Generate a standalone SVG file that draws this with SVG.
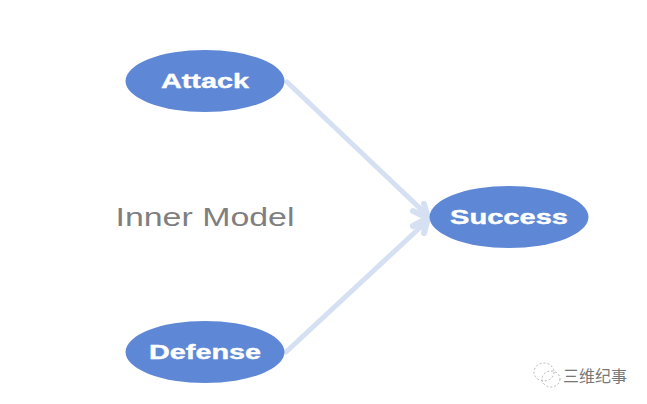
<svg xmlns="http://www.w3.org/2000/svg" width="647" height="404" viewBox="0 0 647 404">
<style>
.n{fill:#5e88d6}
.l{font-family:"Liberation Sans",Arial,sans-serif;font-weight:700;font-size:21px;fill:#fff;stroke:#fff;stroke-width:.4;text-anchor:middle}
.c{fill:none;stroke:#d5e0f3;stroke-width:5;stroke-linecap:round;stroke-linejoin:round}
.h{fill:none;stroke:#d5e0f3;stroke-width:6;stroke-linecap:round;stroke-linejoin:round}
.w{fill:none;stroke:#b5b5b5;stroke-width:1;stroke-dasharray:2 2}
</style>
<rect width="647" height="404" fill="#ffffff"/>
<g id="connectors">
<path class="c" d="M287 82L426 214"/>
<path class="c" d="M286 352L426 222"/>
<path class="h" d="M413 211L428 218L424 204"/>
<path class="h" d="M413 226L428 218L424 233"/>
</g>
<g id="attack"><ellipse class="n" cx="205" cy="81" rx="79.500" ry="31"/><text class="l" x="205" y="88" textLength="88" lengthAdjust="spacingAndGlyphs">Attack</text></g>
<g id="success"><ellipse class="n" cx="509" cy="217" rx="79.500" ry="31"/><text class="l" x="509" y="224" textLength="118" lengthAdjust="spacingAndGlyphs">Success</text></g>
<g id="defense"><ellipse class="n" cx="205" cy="352" rx="79.500" ry="31"/><text class="l" x="205" y="359" textLength="112" lengthAdjust="spacingAndGlyphs">Defense</text></g>
<g id="inner-model"><text x="205" y="226" font-family="'Liberation Sans',Arial,sans-serif" font-size="25" fill="#7f7f7f" text-anchor="middle" textLength="179" lengthAdjust="spacingAndGlyphs">Inner Model</text></g>
<g id="watermark">
<ellipse class="w" cx="544" cy="372" rx="10" ry="9"/>
<ellipse class="w" cx="551" cy="379" rx="9" ry="8"/>
<text x="563" y="382" font-family="'Noto Sans CJK SC',sans-serif" font-size="16" fill="#777777" textLength="64" lengthAdjust="spacingAndGlyphs">三维纪事</text>
</g>
</svg>
